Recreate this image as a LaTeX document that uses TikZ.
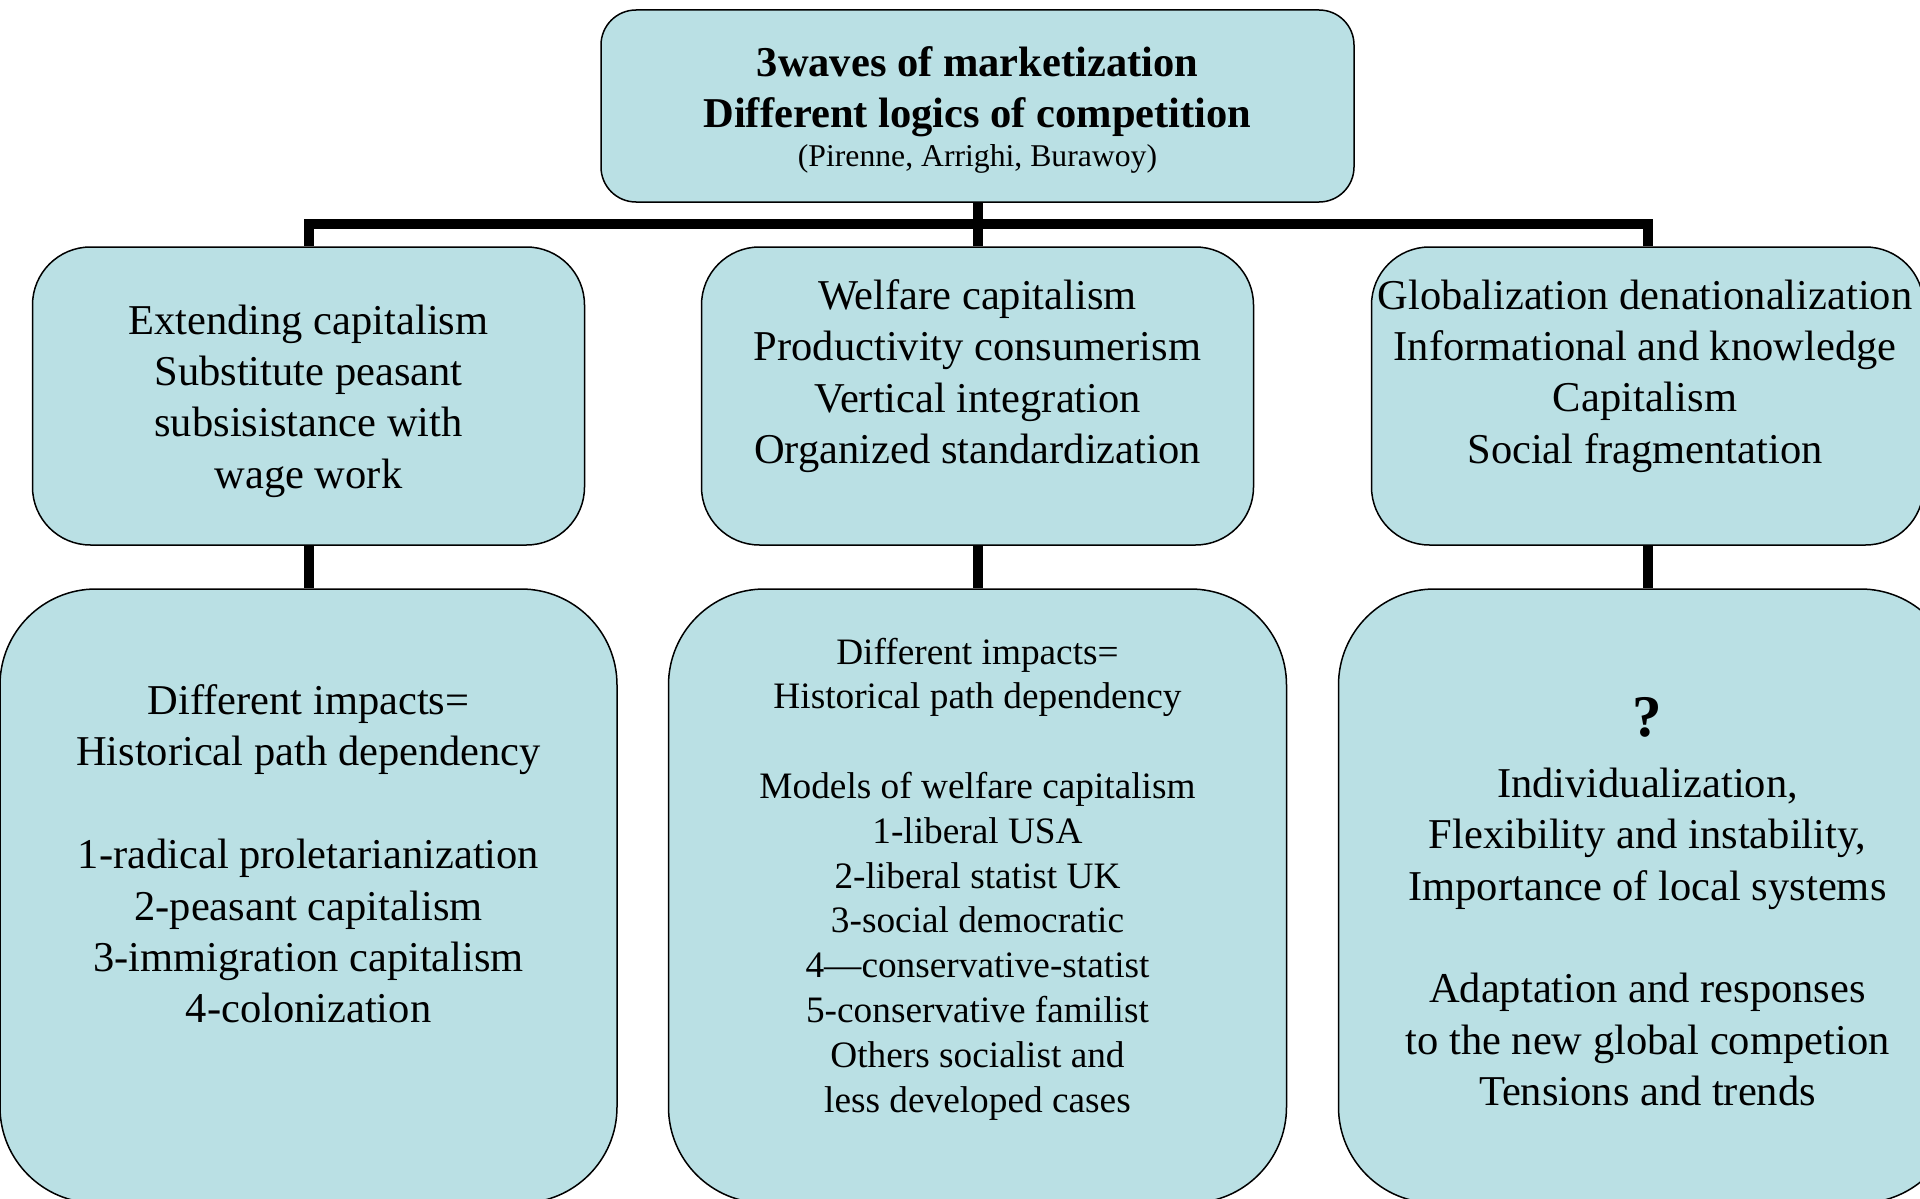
\documentclass[tikz,border=0pt]{standalone}
\usepackage{fontspec}
\setmainfont{Liberation Serif}
\definecolor{boxfill}{RGB}{186,224,228}
\begin{document}
\begin{tikzpicture}[x=1pt,y=-1pt,
  box/.style={draw=black, line width=1.5pt, fill=boxfill, rectangle, inner sep=0pt},
  txt/.style={align=center, inner sep=0pt, font=\fontsize{42.5}{51.4}\selectfont},
  smalltxt/.style={align=center, inner sep=0pt, font=\fontsize{37.3}{44.8}\selectfont},
  link/.style={line width=10pt, black}]
\useasboundingbox (0,0) rectangle (1920,1199);
\clip (0,0) rectangle (1920,1199);

% boxes
\node[box, rounded corners=35pt, minimum width=753pt, minimum height=192pt] (top) at (977.5,106) {};
\node[box, rounded corners=58pt, minimum width=552pt, minimum height=298pt] (m1) at (308.5,396) {};
\node[box, rounded corners=58pt, minimum width=552pt, minimum height=298pt] (m2) at (977.5,396) {};
\node[box, rounded corners=58pt, minimum width=552pt, minimum height=298pt] (m3) at (1647.5,396) {};
\node[box, rounded corners=96pt, minimum width=617pt, minimum height=614pt] (b1) at (308.5,896) {};
\node[box, rounded corners=96pt, minimum width=618pt, minimum height=614pt] (b2) at (977.5,896) {};
\node[box, rounded corners=96pt, minimum width=618pt, minimum height=614pt] (b3) at (1647.5,896) {};

% connectors
\coordinate (hub) at (977.5,224);
\draw[link] (top.south) -- (hub);
\draw[link] (hub) -| (m1.north);
\draw[link] (hub) -| (m3.north);
\draw[link] (hub) -- (m2.north);
\draw[link] (m1.south) -- (b1.north);
\draw[link] (m2.south) -- (b2.north);
\draw[link] (m3.south) -- (b3.north);

% texts
\node[txt, font=\fontsize{42.5}{51.4}\selectfont\bfseries] (toptitle) at (977.5,92)
  {3waves of marketization\\Different logics of competition};
\node[txt, font=\fontsize{31.7}{38}\selectfont] (topsub) at (977.5,159)
  {(Pirenne, Arrighi, Burawoy)};

\node[txt] (m1t) at (308.5,401)
  {Extending capitalism\\Substitute peasant\\subsisistance with\\wage work};
\node[txt] (m2t) at (977.5,376)
  {Welfare capitalism\\Productivity consumerism\\Vertical integration\\Organized standardization};
\node[txt] (m3t) at (1645,376)
  {Globalization denationalization\\Informational and knowledge\\Capitalism\\Social fragmentation};

\node[txt] (b1t) at (308.5,854)
  {Different impacts=\\Historical path dependency\\[51.4pt]1-radical proletarianization\\2-peasant capitalism\\3-immigration capitalism\\4-colonization};
\node[smalltxt] (b2t) at (977.5,879)
  {Different impacts=\\Historical path dependency\\[44.8pt]Models of welfare capitalism\\1-liberal USA\\2-liberal statist UK\\3-social democratic\\4—conservative-statist\\5-conservative familist\\Others socialist and\\less developed cases};
\node[txt, font=\fontsize{59}{60}\selectfont\bfseries] (b3q) at (1647.5,717) {?};
\node[txt] (b3t) at (1647.5,937)
  {Individualization,\\Flexibility and instability,\\Importance of local systems\\[51.4pt]Adaptation and responses\\to the new global competion\\Tensions and trends};
\end{tikzpicture}
\end{document}
